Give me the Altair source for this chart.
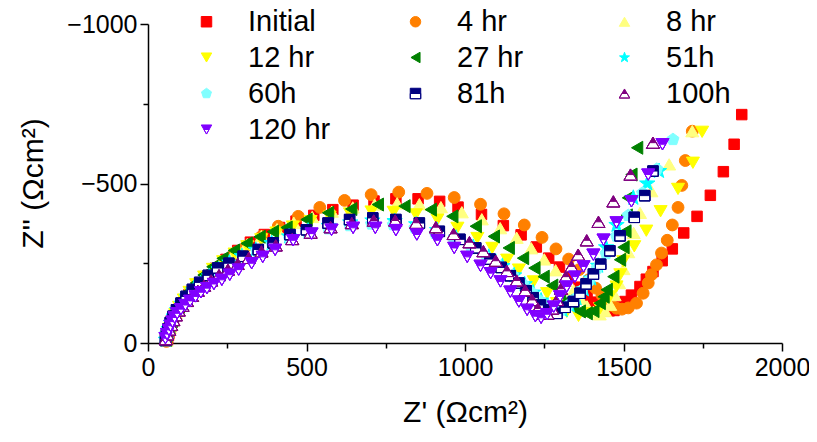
import altair as alt
import pandas as pd

series_names = ["Initial", "4 hr", "8 hr", "12 hr", "27 hr", "51h", "60h", "81h", "100h", "120 hr"]
colors = ["#FF0000", "#FF8000", "#FFFF80", "#FFFF00", "#008000",
          "#00FFFF", "#80FFFF", "#000080", "#800080", "#8000FF"]

initial_x = [62, 66, 72, 80, 92, 107, 129, 154, 181, 212, 246, 283, 323, 367, 415, 467, 523, 583, 647, 713,
             782, 852, 920, 978, 1052, 1121, 1177, 1225, 1264, 1298, 1330, 1360, 1385, 1405, 1422, 1438, 1455,
             1470, 1488, 1505, 1525, 1552, 1572, 1593, 1622, 1654, 1690, 1732, 1774, 1815, 1849, 1873]
initial_z = [-12, -30, -52, -75, -100, -126, -151, -180, -207, -234, -262, -290, -316, -340, -362, -382, -400,
             -418, -432, -445, -452, -452, -444, -426, -403, -368, -339, -301, -266, -238, -205, -175, -148,
             -128, -114, -105, -101, -102, -115, -130, -150, -177, -200, -224, -258, -295, -345, -397, -463,
             -537, -623, -716]

h4_x = [58, 61, 67, 75, 86, 100, 117, 138, 163, 192, 226, 265, 309, 358, 411, 474, 542, 620, 704, 791, 880,
        966, 1049, 1123, 1187, 1243, 1287, 1327, 1360, 1390, 1412, 1432, 1448, 1462, 1478, 1495, 1515, 1541,
        1562, 1578, 1588, 1604, 1620, 1638, 1654, 1672, 1684, 1695, 1717]
h4_z = [-5, -20, -40, -60, -83, -106, -130, -156, -183, -212, -241, -272, -303, -334, -366, -397, -425, -447,
        -465, -473, -469, -456, -435, -405, -370, -331, -295, -263, -230, -198, -172, -150, -132, -118, -109,
        -106, -110, -125, -156, -188, -214, -245, -282, -322, -370, -425, -494, -572, -664]

h8_x = [59, 63, 69, 77, 88, 102, 121, 144, 170, 200, 234, 272, 313, 358, 407, 460, 518, 580, 646, 715, 786,
        856, 924, 990, 1053, 1111, 1163, 1209, 1250, 1286, 1317, 1343, 1365, 1385, 1405, 1425, 1442, 1458,
        1472, 1486, 1500, 1515, 1532, 1552, 1588, 1644, 1717]
h8_z = [-8, -26, -47, -70, -94, -119, -145, -172, -200, -228, -256, -284, -310, -335, -357, -377, -395, -412,
        -425, -434, -438, -435, -426, -410, -388, -360, -330, -297, -262, -228, -195, -165, -138, -115, -98,
        -90, -100, -120, -150, -188, -232, -285, -345, -408, -476, -560, -664]

h12_x = [58, 62, 68, 76, 86, 98, 113, 131, 152, 177, 205, 237, 273, 313, 357, 405, 457, 513, 573, 637, 705,
         775, 845, 913, 976, 1039, 1086, 1133, 1170, 1217, 1259, 1290, 1321, 1358, 1395, 1426, 1457, 1478,
         1490, 1499, 1534, 1572, 1617, 1672, 1719, 1748]
h12_z = [-8, -25, -45, -67, -90, -113, -136, -160, -184, -208, -232, -256, -280, -303, -325, -346, -365, -382,
         -396, -406, -412, -411, -403, -387, -361, -329, -298, -261, -230, -193, -156, -125, -98, -85, -93,
         -109, -146, -177, -215, -256, -303, -352, -413, -483, -565, -662]

h27_x = [57, 61, 67, 75, 85, 97, 112, 130, 151, 175, 203, 235, 271, 311, 352, 394, 437, 500, 568, 641, 725,
         809, 892, 960, 1034, 1091, 1138, 1183, 1219, 1248, 1275, 1300, 1322, 1342, 1362, 1384, 1405, 1425,
         1437, 1447, 1468, 1489, 1500, 1506, 1510, 1514, 1525, 1543]
h27_z = [-10, -27, -47, -69, -92, -115, -139, -163, -188, -213, -239, -265, -290, -312, -333, -349, -362, -387,
         -408, -420, -434, -429, -418, -397, -366, -334, -298, -266, -235, -208, -180, -155, -132, -113, -99,
         -93, -100, -125, -145, -167, -208, -261, -300, -350, -400, -455, -528, -612]

h51_x = [56, 60, 65, 72, 81, 92, 106, 123, 143, 166, 193, 223, 257, 296, 340, 390, 445, 505, 570, 638, 708,
         778, 846, 912, 972, 1026, 1075, 1118, 1155, 1188, 1215, 1240, 1262, 1285, 1308, 1330, 1352, 1375,
         1398, 1420, 1445, 1478, 1531, 1575, 1612]
h51_z = [-10, -26, -44, -63, -83, -103, -123, -144, -165, -187, -209, -231, -252, -272, -292, -313, -334, -352,
         -367, -378, -384, -382, -372, -354, -330, -301, -270, -241, -212, -184, -158, -133, -112, -100, -103,
         -118, -140, -168, -202, -242, -300, -370, -455, -500, -539]

h60_x = [55, 59, 64, 71, 80, 91, 105, 122, 142, 166, 193, 224, 259, 299, 343, 392, 446, 505, 569, 636, 705,
         774, 842, 906, 966, 1020, 1069, 1112, 1150, 1183, 1211, 1236, 1258, 1280, 1302, 1324, 1346, 1368,
         1392, 1417, 1445, 1478, 1515, 1560, 1605, 1656]
h60_z = [-9, -25, -43, -62, -82, -102, -122, -143, -164, -186, -208, -229, -249, -268, -288, -308, -327, -344,
         -358, -368, -373, -371, -361, -344, -322, -296, -268, -240, -212, -184, -157, -132, -112, -100, -103,
         -117, -138, -165, -197, -235, -280, -335, -400, -470, -545, -638]

h81_x = [55, 58, 63, 70, 79, 90, 104, 120, 140, 163, 190, 220, 255, 300, 348, 395, 448, 500, 568, 636, 709,
         782, 856, 919, 984, 1034, 1079, 1114, 1143, 1170, 1193, 1215, 1238, 1264, 1290, 1316, 1342, 1363,
         1382, 1405, 1428, 1457, 1489, 1534, 1567, 1593]
h81_z = [-8, -25, -44, -64, -84, -104, -125, -146, -168, -190, -212, -235, -250, -272, -293, -314, -340, -355,
         -376, -387, -392, -387, -376, -350, -325, -298, -263, -237, -211, -188, -164, -142, -119, -104, -93,
         -112, -130, -156, -185, -216, -247, -289, -336, -394, -462, -539]

h100_x = [56, 61, 67, 73, 80, 88, 97, 109, 123, 139, 157, 177, 199, 224, 252, 283, 318, 358, 403, 455, 513,
          576, 643, 712, 780, 846, 908, 964, 1014, 1058, 1097, 1132, 1163, 1190, 1212, 1230, 1245, 1260, 1275,
          1290, 1303, 1318, 1336, 1357, 1384, 1421, 1468, 1522, 1593]
h100_z = [-12, -27, -42, -57, -72, -87, -102, -117, -132, -148, -164, -180, -196, -213, -230, -248, -267, -287,
          -306, -326, -346, -363, -376, -384, -384, -377, -363, -342, -316, -288, -258, -226, -196, -165, -135,
          -108, -92, -92, -108, -135, -170, -208, -240, -277, -322, -380, -444, -528, -628]

h120_x = [55, 60, 66, 71, 77, 84, 92, 104, 118, 133, 150, 167, 186, 208, 233, 258, 286, 327, 362, 401, 458,
          516, 579, 647, 717, 782, 848, 913, 966, 1007, 1049, 1081, 1112, 1143, 1170, 1196, 1222, 1240, 1259,
          1280, 1300, 1321, 1347, 1374, 1405, 1437, 1478, 1525, 1578, 1623]
h120_z = [-15, -28, -41, -54, -67, -80, -93, -106, -119, -132, -146, -159, -172, -185, -198, -214, -230, -250,
          -270, -292, -322, -343, -355, -361, -361, -354, -340, -322, -298, -270, -242, -219, -193, -161, -130,
          -104, -84, -79, -90, -114, -146, -177, -208, -240, -277, -324, -378, -444, -528, -623]

xs = [initial_x, h4_x, h8_x, h12_x, h27_x, h51_x, h60_x, h81_x, h100_x, h120_x]
zs = [initial_z, h4_z, h8_z, h12_z, h27_z, h51_z, h60_z, h81_z, h100_z, h120_z]

# marker shapes (custom paths for star, pentagon and half-filled symbols)
STAR = ("M0,-1L0.235,-0.324L0.951,-0.309L0.38,0.124L0.588,0.809L0,0.4L-0.588,0.809"
        "L-0.38,0.124L-0.951,-0.309L-0.235,-0.324Z")
PENT = "M0,-1L0.951,-0.309L0.588,0.809L-0.588,0.809L-0.951,-0.309Z"
HALF_SQ = "M-1,-1L1,-1L1,1L-1,1ZM-1,0L-1,1L1,1L1,0Z"
HALF_TU = "M0,-0.866L1,0.866L-1,0.866ZM-0.5,0L-1,0.866L1,0.866L0.5,0Z"
HALF_TD = "M-1,-0.866L1,-0.866L0,0.866ZM-0.5,0L0,0.866L0.5,0Z"

shapes = ["square", "circle", "triangle-up", "triangle-down", "triangle-left",
          STAR, PENT, HALF_SQ, HALF_TU, HALF_TD]
sizes = [110, 140, 170, 170, 170, 260, 160, 110, 170, 170]
half = {"81h": "square", "100h": "triangle-up", "120 hr": "triangle-down"}

keys = list(series_names)
shape_range = list(shapes)
fill_range = list(colors)
stroke_range = list(colors)
for name, base in half.items():
    keys.append(name + "_bg")
    shape_range.append(base)
    fill_range.append("#FFFFFF")
    stroke_range.append(colors[series_names.index(name)])

rows = []
for i, name in enumerate(series_names):
    for xv, zv in zip(xs[i], zs[i]):
        if name in half:
            rows.append({"x": xv, "z": zv, "key": name + "_bg", "size": sizes[i]})
        rows.append({"x": xv, "z": zv, "key": name, "size": sizes[i]})
df = pd.DataFrame(rows)

FONT = "Liberation Sans"

legend = alt.Legend(
    title=None, orient="none", direction="horizontal", legendX=44, legendY=-17, columns=3,
    values=series_names,
    labelFont=FONT, labelFontSize=29, labelColor="black", labelOffset=27, labelLimit=300,
    symbolSize=110, symbolStrokeWidth=1, rowPadding=6, columnPadding=70,
    gridAlign="all", padding=0,
)

tick_cond = {"condition": {"test": "datum.value % 500 === 0", "value": 8}, "value": 5}
lab_expr = "datum.value % 500 === 0 ? replace(toString(datum.value), '-', '\u2212') : ''"

common_axis = dict(
    grid=False, domainColor="black", domainWidth=1.5, tickColor="black", tickWidth=1.5,
    tickSize=tick_cond, labelExpr=lab_expr, labelFont=FONT, labelFontSize=25, labelColor="black",
    labelFlush=False, labelOverlap=False, titleFont=FONT, titleFontSize=30,
    titleFontWeight="normal", titleColor="black", titleAlign="center", titleBaseline="middle",
)

x_axis = alt.Axis(values=[0, 250, 500, 750, 1000, 1250, 1500, 1750, 2000], labelPadding=4,
                  title="Z' (Ωcm²)", titleX=317, titleY=69, **common_axis)
y_axis = alt.Axis(values=[-1000, -750, -500, -250, 0], labelPadding=3,
                  title="Z'' (Ωcm²)", titleAngle=270, titleX=-115, titleY=159, **common_axis)

chart = alt.Chart(df).mark_point(filled=True, opacity=1, strokeWidth=1).encode(
    x=alt.X("x:Q", scale=alt.Scale(domain=[0, 2000], nice=False, zero=False), axis=x_axis),
    y=alt.Y("z:Q", scale=alt.Scale(domain=[-1000, 0], nice=False, reverse=True), axis=y_axis),
    fill=alt.Fill("key:N", scale=alt.Scale(domain=keys, range=fill_range), legend=legend),
    stroke=alt.Stroke("key:N", scale=alt.Scale(domain=keys, range=stroke_range), legend=legend),
    shape=alt.Shape("key:N", scale=alt.Scale(domain=keys, range=shape_range), legend=legend),
    size=alt.Size("size:Q", scale=None),
).properties(
    width=634, height=319,
    autosize=alt.AutoSizeParams(type="none"),
    padding={"left": 140, "top": 16, "right": 27, "bottom": 91},
    background="white",
).configure_view(stroke=None)

chart.save("out.html", embed_options={"renderer": "svg", "actions": False})
